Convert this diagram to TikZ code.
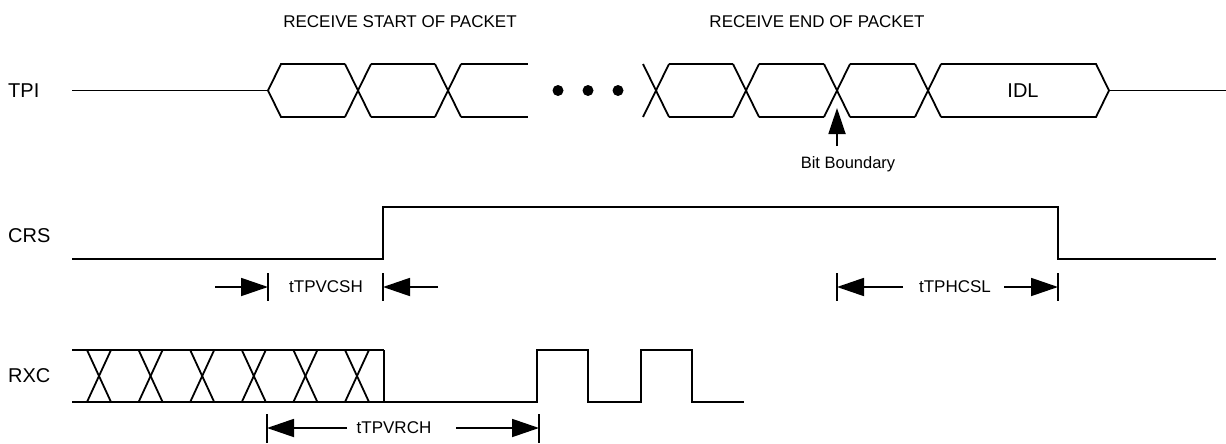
\documentclass[tikz,border=0pt]{standalone}
\usepackage{fontspec}
\setmainfont{Liberation Sans}
\usetikzlibrary{arrows.meta}
\begin{document}
\begin{tikzpicture}[x=1pt,y=-1pt,
  sig/.style={line width=1.8pt,line join=miter},
  dimline/.style={line width=1.8pt,-{Triangle[length=27pt,width=18pt]}},
  dimbar/.style={line width=1.8pt},
  siglabel/.style={anchor=west,inner sep=0pt,font=\fontsize{20}{24}\selectfont},
  toplabel/.style={inner sep=0pt,font=\fontsize{17}{20}\selectfont},
  dimlabel/.style={inner sep=0pt,font=\fontsize{17}{20}\selectfont},
  dot/.style={circle,fill=black,inner sep=0pt,minimum size=11pt}]
\useasboundingbox (0,0) rectangle (1226,444);

% top labels
\node[toplabel] (rsop) at (400,22) {RECEIVE START OF PACKET};
\node[toplabel] (reop) at (817,22) {RECEIVE END OF PACKET};

% signal labels
\node[siglabel] (tpi) at (8,90.5) {TPI};
\node[siglabel] (crs) at (8,236) {CRS};
\node[siglabel] (rxc) at (8,376) {RXC};

% ---------- TPI ----------
\def\tT{64}\def\tB{117}\def\tM{90.5}\def\hs{13}
\coordinate (tpiA) at (72,\tM);
\coordinate (tpiB) at (268,\tM);
\draw[sig] (tpiA) -- (tpiB);
\draw[sig] (tpiB) -- (281,\tT) -- (345,\tT);
\draw[sig] (tpiB) -- (281,\tB) -- (345,\tB);
\foreach \xc in {358,448}{
  \draw[sig] (\xc-\hs,\tT) -- (\xc+\hs,\tB);
  \draw[sig] (\xc-\hs,\tB) -- (\xc+\hs,\tT);
}
\draw[sig] (371,\tT) -- (435,\tT);
\draw[sig] (371,\tB) -- (435,\tB);
\draw[sig] (461,\tT) -- (528,\tT);
\draw[sig] (461,\tB) -- (528,\tB);
% dots
\node[dot] (d1) at (558,\tM) {};
\node[dot] (d2) at (588,\tM) {};
\node[dot] (d3) at (618,\tM) {};
% end of packet
\foreach \xc in {656,746,837,928}{
  \draw[sig] (\xc-\hs,\tT) -- (\xc+\hs,\tB);
  \draw[sig] (\xc-\hs,\tB) -- (\xc+\hs,\tT);
}
\draw[sig] (669,\tT) -- (733,\tT);
\draw[sig] (669,\tB) -- (733,\tB);
\draw[sig] (759,\tT) -- (824,\tT);
\draw[sig] (759,\tB) -- (824,\tB);
\draw[sig] (850,\tT) -- (915,\tT);
\draw[sig] (850,\tB) -- (915,\tB);
\coordinate (idlP) at (1109,\tM);
\coordinate (tpiE) at (1226,\tM);
\draw[sig] (941,\tT) -- (1096,\tT) -- (idlP) -- (1096,\tB) -- (941,\tB);
\draw[sig] (idlP) -- (tpiE);
\node[inner sep=0pt,font=\fontsize{20}{24}\selectfont] (idl) at (1023,\tM) {IDL};

% bit boundary
\node[inner sep=0pt,font=\fontsize{16.5}{20}\selectfont] (bb) at (848,164) {Bit Boundary};
\coordinate (bbS) at (837,146);
\coordinate (bbT) at (837,108);
\draw[line width=1.8pt,-{Triangle[length=26pt,width=17pt]}] (bbS) -- (bbT);

% ---------- CRS ----------
\def\cH{207}\def\cL{259}
\coordinate (crsA) at (72,\cL);
\coordinate (crsR) at (383,\cL);
\coordinate (crsF) at (1058,\cH);
\coordinate (crsE) at (1216,\cL);
\draw[sig] (crsA) -- (crsR) -- (383,\cH) -- (crsF) -- (1058,\cL) -- (crsE);

% tTPVCSH
\def\dy{287}
\coordinate (b1t) at (268,273); \coordinate (b1b) at (268,301);
\coordinate (b2t) at (383,273); \coordinate (b2b) at (383,301);
\draw[dimbar] (b1t) -- (b1b);
\draw[dimbar] (b2t) -- (b2b);
\coordinate (a1s) at (215,\dy); \coordinate (a1e) at (268,\dy);
\coordinate (a2s) at (438,\dy); \coordinate (a2e) at (383,\dy);
\draw[dimline] (a1s) -- (a1e);
\draw[dimline] (a2s) -- (a2e);
\node[dimlabel] (tpvcsh) at (326,\dy) {tTPVCSH};

% tTPHCSL
\coordinate (b3t) at (837,273); \coordinate (b3b) at (837,301);
\coordinate (b4t) at (1058,273); \coordinate (b4b) at (1058,301);
\draw[dimbar] (b3t) -- (b3b);
\draw[dimbar] (b4t) -- (b4b);
\node[dimlabel] (tphcsl) at (955,\dy) {tTPHCSL};
\coordinate (a3s) at (903,\dy); \coordinate (a3e) at (837,\dy);
\coordinate (a4s) at (1004,\dy); \coordinate (a4e) at (1058,\dy);
\draw[dimline] (a3s) -- (a3e);
\draw[dimline] (a4s) -- (a4e);

% ---------- RXC ----------
\def\rT{350}\def\rB{402}\def\rs{12}
\draw[sig] (72,\rT) -- (384,\rT);
\draw[sig] (72,\rB) -- (384,\rB);
\foreach \xc in {99,150.6,202.2,253.8,305.4,357}{
  \draw[sig] (\xc-\rs,\rT) -- (\xc+\rs,\rB);
  \draw[sig] (\xc-\rs,\rB) -- (\xc+\rs,\rT);
}
\coordinate (rxS) at (384,\rT);
\draw[sig] (rxS) -- (384,\rB) -- (537,\rB) -- (537,\rT) -- (588,\rT) -- (588,\rB)
  -- (641,\rB) -- (641,\rT) -- (692,\rT) -- (692,\rB) -- (744,\rB);

% tTPVRCH
\def\ry{428}
\coordinate (b5t) at (267,414); \coordinate (b5b) at (267,443);
\coordinate (b6t) at (539,414); \coordinate (b6b) at (539,443);
\draw[dimbar] (b5t) -- (b5b);
\draw[dimbar] (b6t) -- (b6b);
\node[dimlabel] (tpvrch) at (394,\ry) {tTPVRCH};
\coordinate (a5s) at (347,\ry); \coordinate (a5e) at (267,\ry);
\coordinate (a6s) at (456,\ry); \coordinate (a6e) at (539,\ry);
\draw[dimline] (a5s) -- (a5e);
\draw[dimline] (a6s) -- (a6e);
\end{tikzpicture}
\end{document}
